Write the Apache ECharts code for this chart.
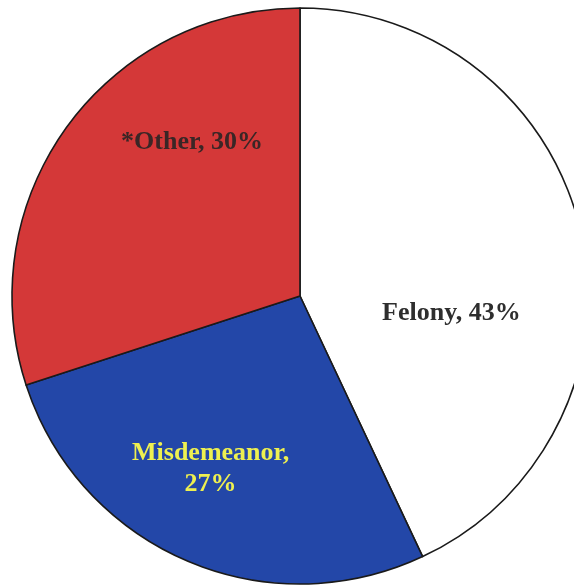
<!DOCTYPE html>
<html>
<head>
<meta charset="utf-8">
<script src="https://cdn.jsdelivr.net/npm/echarts@6/dist/echarts.min.js"></script>
<style>html,body{margin:0;padding:0;background:#fff;}#c{width:574px;height:586px;}</style>
</head>
<body>
<div id="c"></div>
<script>
var categories = ['Felony', 'Misdemeanor', '*Other'];
var values = [43, 27, 30];
var labelTexts = ['Felony, 43%', 'Misdemeanor,\n27%', '*Other, 30%'];

var colors = ['#ffffff', '#2347a8', '#d43838'];
var labelColors = ['#2e2e2e', '#eef050', '#3a2626'];
var labelShift = [[8, 49], [-31, 38], [11, -67]];

var chart = echarts.init(document.getElementById('c'), null, {renderer: 'canvas'});
chart.setOption({
  backgroundColor: '#ffffff',
  animation: false,
  series: [{
    type: 'pie',
    center: [300, 296],
    radius: 288,
    startAngle: 90,
    clockwise: true,
    avoidLabelOverlap: false,
    itemStyle: {borderColor: '#1a1a1a', borderWidth: 1.6},
    label: {
      show: true,
      position: 'inside',
      fontFamily: '"Liberation Serif", "Times New Roman", serif',
      fontWeight: 'bold',
      fontSize: 26,
      lineHeight: 31,
      align: 'center'
    },
    labelLine: {show: false},
    emphasis: {disabled: true},
    labelLayout: function (p) {
      var s = labelShift[p.dataIndex];
      return {dx: s[0], dy: s[1]};
    },
    data: categories.map(function (c, i) {
      return {
        name: c,
        value: values[i],
        itemStyle: {color: colors[i]},
        label: {formatter: labelTexts[i], color: labelColors[i]}
      };
    })
  }]
});
</script>
</body>
</html>
